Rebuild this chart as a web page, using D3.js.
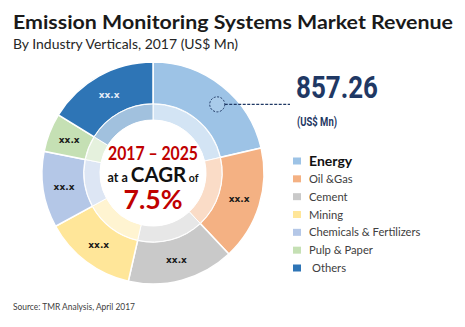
<!DOCTYPE html>
<html><head><meta charset="utf-8">
<script src="https://cdn.jsdelivr.net/npm/d3@7"></script>
<style>
html,body{margin:0;padding:0;background:#fff;}
svg{display:block;}
</style></head>
<body>
<svg id="chart" width="465" height="327"></svg>
<script>
// ---- data ----
const categories = ["Energy","Oil &Gas","Cement","Mining","Chemicals & Fertilizers","Pulp & Paper","Others"];
const values = [857.26, 668, 623, 540, 445, 226, 651];   // US$ Mn
const sliceLabels = ["", "xx.x", "xx.x", "xx.x", "xx.x", "xx.x", "xx.x"];
const colors = ["#9dc3e6","#f4b183","#c9c9c9","#ffe699","#b4c7e7","#c5e0b4","#2e75b6"];
const highlightValue = "857.26";
const highlightUnit = "(US$ Mn)";
const title = "Emission Monitoring Systems Market Revenue";
const subtitle = "By Industry Verticals, 2017 (US$ Mn)";
const source = "Source: TMR Analysis, April 2017";
const cagrYears = "2017 \u2013 2025";
const cagrValue = "7.5%";

const svg = d3.select("#chart");

// titles
svg.append("text").attr("x",13).attr("y",28.5).text(title)
  .attr("font-family","Lato").attr("font-weight","bold").attr("font-size",18.5)
  .attr("textLength",440).attr("lengthAdjust","spacingAndGlyphs").attr("fill","#1a1a1a");
svg.append("text").attr("x",13).attr("y",49).text(subtitle)
  .attr("font-family","Lato").attr("font-size",13.5)
  .attr("textLength",225).attr("lengthAdjust","spacingAndGlyphs").attr("fill","#262626");
svg.append("text").attr("x",13).attr("y",310).text(source)
  .attr("font-family","Lato").attr("font-size",8.5).attr("fill","#404040")
  .attr("textLength",122).attr("lengthAdjust","spacingAndGlyphs");

// donut
const cx = 153, cy = 173, R = 111, rBand = 69, rWhite = 53;
const g = svg.append("g").attr("transform",`translate(${cx},${cy})`);
const pie = d3.pie().sort(null).value(d=>d)(values);
const color = d3.scaleOrdinal().domain(categories).range(colors);
const arcOuter = d3.arc().innerRadius(rBand).outerRadius(R);
const arcBand = d3.arc().innerRadius(rWhite).outerRadius(rBand);
const arcLabel = d3.arc().innerRadius(90).outerRadius(90);

g.selectAll("path.outer").data(pie).join("path").attr("class","outer")
  .attr("d",arcOuter).attr("fill",(d,i)=>color(categories[i]))
  .attr("stroke","#fff").attr("stroke-width",1.5);
g.selectAll("path.band").data(pie).join("path").attr("class","band")
  .attr("d",arcBand).attr("fill",(d,i)=>color(categories[i])).attr("fill-opacity",0.45)
  .attr("stroke","#fff").attr("stroke-width",1);
g.append("circle").attr("r",rWhite).attr("fill","#fff");

g.selectAll("text.lbl").data(pie).join("text").attr("class","lbl")
  .attr("transform",d=>`translate(${arcLabel.centroid(d)})`)
  .attr("text-anchor","middle").attr("dy","0.35em")
  .attr("font-family","DejaVu Sans").attr("font-weight","bold").attr("font-size",9)
  .attr("fill",(d,i)=>i===6?"#e4ecf7":"#1a1a1a")
  .text((d,i)=>sliceLabels[i]);

// highlight marker in Energy slice
const e = pie[0];
const mAng = e.startAngle + 0.56*(e.endAngle-e.startAngle);
const mR = 94;
const mx = cx + mR*Math.sin(mAng), my = cy - mR*Math.cos(mAng);
svg.append("line").attr("x1",mx+7.5).attr("y1",my).attr("x2",290).attr("y2",my)
  .attr("stroke","#1f3864").attr("stroke-width",1.3).attr("stroke-dasharray","3,1.5");
svg.append("circle").attr("cx",mx).attr("cy",my).attr("r",7.5)
  .attr("fill","#a9cbea").attr("stroke","#1f3864").attr("stroke-width",1).attr("stroke-dasharray","2,1.5");
svg.append("text").attr("x",296).attr("y",98).text(highlightValue)
  .attr("font-family","Roboto, 'DejaVu Sans', sans-serif").attr("font-weight","bold").attr("font-size",31)
  .attr("textLength",82).attr("lengthAdjust","spacingAndGlyphs").attr("fill","#1f3864");
svg.append("text").attr("x",297).attr("y",126).text(highlightUnit)
  .attr("font-family","Roboto, 'DejaVu Sans', sans-serif").attr("font-weight","bold").attr("font-size",12)
  .attr("textLength",40).attr("lengthAdjust","spacingAndGlyphs").attr("fill","#1f3864");

// center text
svg.append("text").attr("x",cx).attr("y",159.5).attr("text-anchor","middle").text(cagrYears)
  .attr("font-family","Lato").attr("font-weight","bold").attr("font-size",18.5)
  .attr("textLength",90).attr("lengthAdjust","spacingAndGlyphs").attr("fill","#c00000");
const t2 = svg.append("text").attr("x",cx).attr("y",182).attr("text-anchor","middle")
  .attr("font-family","Lato").attr("font-weight","bold").attr("fill","#111");
t2.append("tspan").attr("font-size",12.5).text("at a ");
t2.append("tspan").attr("font-size",20.5).text("CAGR");
t2.append("tspan").attr("font-size",10.5).text(" of");
svg.append("text").attr("x",cx).attr("y",208.5).attr("text-anchor","middle").text(cagrValue)
  .attr("font-family","Lato").attr("font-weight","bold").attr("font-size",27.5)
  .attr("textLength",59).attr("lengthAdjust","spacingAndGlyphs").attr("fill","#c00000");

// legend
const lg = svg.append("g");
const ly = d3.scalePoint().domain(categories).range([161,268]);
const items = lg.selectAll("g").data(categories).join("g")
  .attr("transform",d=>`translate(293,${ly(d)})`);
items.append("rect").attr("x",0).attr("y",-3.5).attr("width",8).attr("height",7)
  .attr("fill",d=>color(d));
items.append("text").attr("x",(d,i)=>i===6?19:16).attr("y",0).attr("dy","0.36em")
  .attr("font-family","Lato").attr("fill",(d,i)=>i===0?"#111":"#404040")
  .attr("font-weight",(d,i)=>i===0?"bold":"normal")
  .attr("font-size",(d,i)=>i===0?14:11.2)
  .text(d=>d);
</script>
</body></html>
